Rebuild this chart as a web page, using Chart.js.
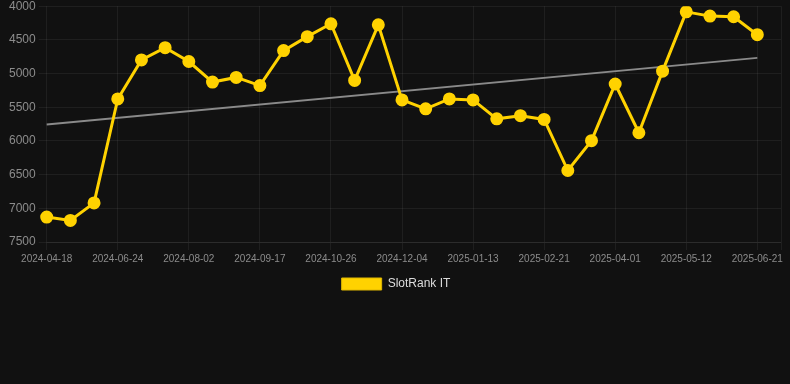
<!DOCTYPE html>
<html>
<head>
<meta charset="utf-8">
<script src="https://cdn.jsdelivr.net/npm/chart.js@4/dist/chart.umd.min.js"></script>
<style>
  html, body { margin: 0; padding: 0; background: #111111; }
  #canvas-container { width: 790px; height: 304px; position: relative; margin-top: -4px; }
</style>
</head>
<body>
<div id="canvas-container"></div>
<script>
const dates = [
  "2024-04-18", "2024-05-10", "2024-06-02", "2024-06-24", "2024-07-07", "2024-07-20",
  "2024-08-02", "2024-08-17", "2024-09-02", "2024-09-17", "2024-09-30", "2024-10-13",
  "2024-10-26", "2024-11-08", "2024-11-21", "2024-12-04", "2024-12-17", "2024-12-30",
  "2025-01-13", "2025-01-26", "2025-02-08", "2025-02-21", "2025-03-06", "2025-03-19",
  "2025-04-01", "2025-04-14", "2025-04-27", "2025-05-12", "2025-05-25", "2025-06-08",
  "2025-06-21"
];

const rankIT = [
  7130, 7180, 6920, 5377, 4797, 4615, 4821, 5126, 5057, 5178, 4659,
  4452, 4261, 5101, 4276, 5391, 5524, 5377, 5391, 5672, 5625, 5681,
  6439, 5996, 5155, 5878, 4964, 4084, 4147, 4157, 4423
];

const trendStart = 5755;
const trendEnd = 4767;

const yTicks = [4000, 4500, 5000, 5500, 6000, 6500, 7000, 7500];

function createLineChart() {
  let canvas = document.createElement("canvas");
  canvas.setAttribute('id', "mycanvas");
  document.getElementById("canvas-container").appendChild(canvas);

  // one blank slot at the end so the plot runs on to the right edge
  let labels = dates.concat([""]);

  const data = {
    labels: labels,
    datasets: [
      {
        label: "SlotRank IT",
        data: rankIT,
        borderColor: "#ffd200",
        backgroundColor: "#ffd200",
        borderWidth: 3,
        pointRadius: 5,
        pointHoverRadius: 6,
        pointBackgroundColor: "#ffd200",
        pointBorderColor: "#ffd200",
        tension: 0,
        order: 1,
      },
      {
        label: "trend",
        data: [
          { x: dates[0], y: trendStart },
          { x: dates[dates.length - 1], y: trendEnd },
        ],
        borderColor: "#8a8a8a",
        borderWidth: 2,
        pointRadius: 0,
        order: 2,
      },
    ],
  };

  let chartOptions = {
    responsive: true,
    maintainAspectRatio: false,
    animation: false,
    layout: {
      padding: { left: 6, right: 4, top: 0, bottom: 0 },
    },
    plugins: {
      legend: {
        position: "bottom",
        labels: {
          color: "#dddddd",
          font: { size: 12 },
          boxWidth: 40,
          boxHeight: 12,
          generateLabels: function (chart) {
            let items = Chart.defaults.plugins.legend.labels.generateLabels(chart);
            items.forEach((it) => { it.lineWidth = 1; it.strokeStyle = "#e0b800"; });
            return items.filter((it) => it.text !== "trend");
          },
        },
      },
      tooltip: { enabled: false },
    },
    scales: {
      x: {
        offset: false,
        grid: { color: "rgba(255,255,255,0.06)" },
        border: { color: "rgba(255,255,255,0.06)" },
        ticks: {
          color: "#8c8c8c",
          font: { size: 10 },
          autoSkip: false,
          maxRotation: 0,
          callback: function (value, index) {
            if (index === labels.length - 1) return "";
            if (index % 3 !== 0) return null;
            return labels[index];
          },
        },
      },
      y: {
        reverse: true,
        min: yTicks[0],
        max: yTicks[yTicks.length - 1],
        grid: { color: "rgba(255,255,255,0.06)" },
        border: { display: false },
        ticks: {
          color: "#8c8c8c",
          font: { size: 12 },
          stepSize: 500,
          callback: (v) => String(v),
        },
      },
    },
  };

  let lineChart = new Chart(canvas, {
    type: "line",
    data: data,
    options: chartOptions,
  });

  return lineChart;
}

createLineChart();
</script>
</body>
</html>
